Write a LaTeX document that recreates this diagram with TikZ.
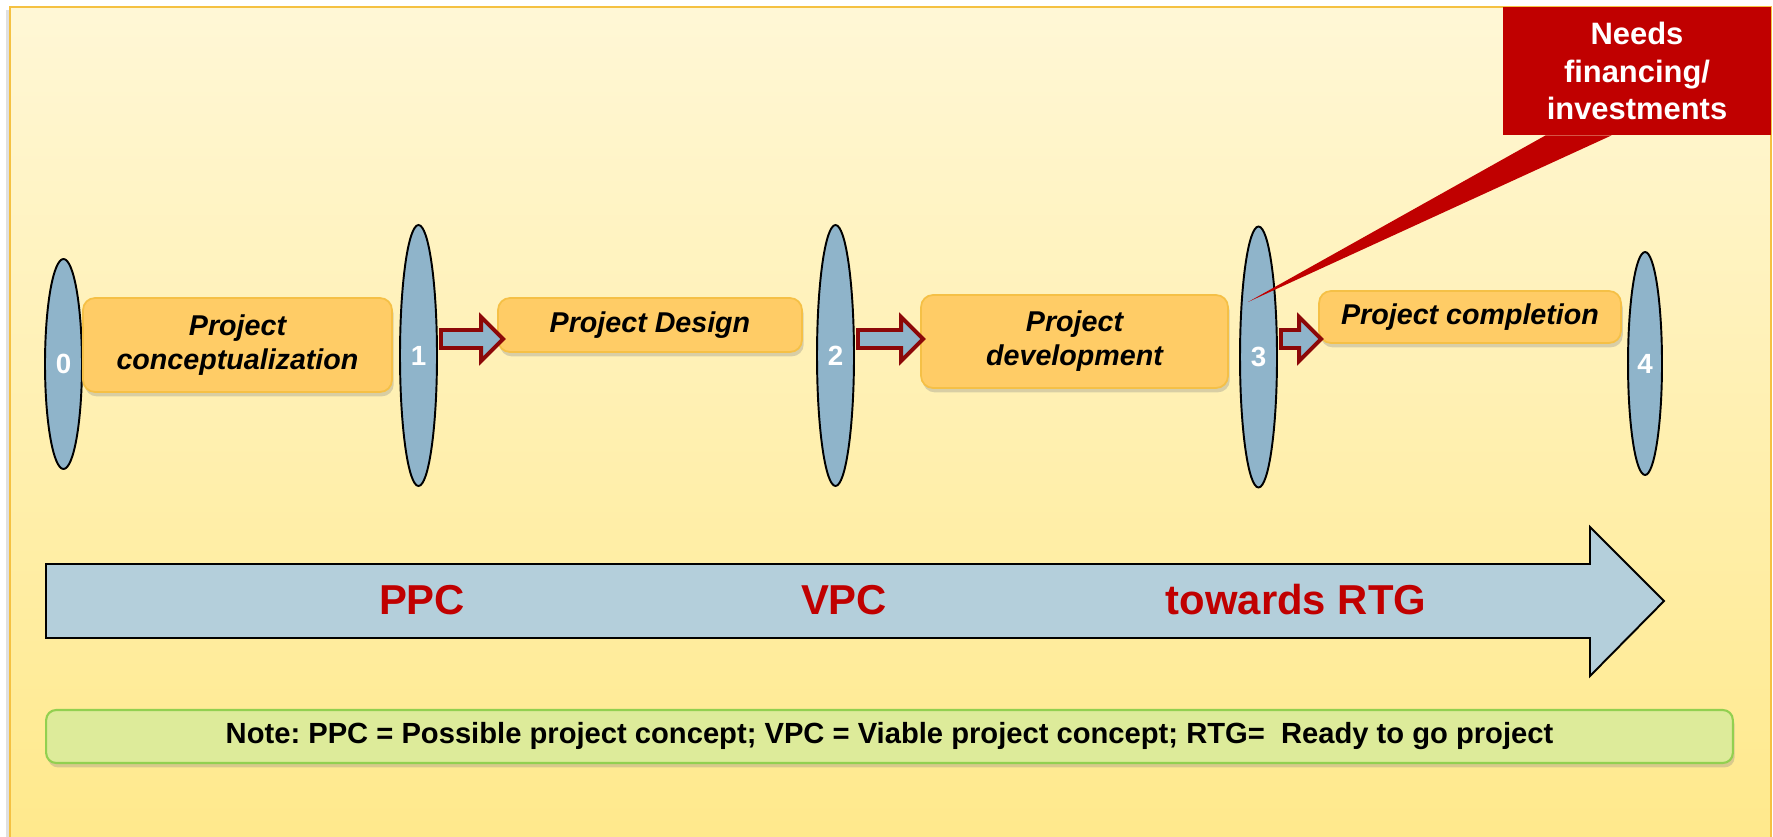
\documentclass[tikz,border=0pt]{standalone}
\usepackage{fontspec}
\setmainfont{Liberation Sans}
\usetikzlibrary{shapes.geometric,shadows,calc}

\definecolor{bgtop}{RGB}{255,247,214}
\definecolor{bgbottom}{RGB}{255,233,140}
\definecolor{framecol}{RGB}{245,193,66}
\definecolor{stageblue}{RGB}{143,180,202}
\definecolor{phasefill}{RGB}{255,204,102}
\definecolor{phaseline}{RGB}{245,192,70}
\definecolor{arrowred}{RGB}{140,8,8}
\definecolor{bandblue}{RGB}{180,207,219}
\definecolor{calloutred}{RGB}{192,0,0}
\definecolor{notefill}{RGB}{221,235,154}
\definecolor{noteline}{RGB}{146,208,80}

\newcommand{\flowarrow}[2]{%
  \draw[flowarrow] let \p1=(#1), \p2=(#2) in
    (\x1+0.06cm,\y2+0.18cm) -- (\x2-0.44cm,\y2+0.18cm) -- (\x2-0.44cm,\y2+0.44cm)
    -- (\x2,\y2) -- (\x2-0.44cm,\y2-0.44cm) -- (\x2-0.44cm,\y2-0.18cm)
    -- (\x1+0.06cm,\y2-0.18cm) -- cycle;}

\frenchspacing
\begin{document}
\begin{tikzpicture}[x=0.02cm,y=-0.02cm,
  stage/.style={ellipse, draw=black, line width=1.1pt, fill=stageblue, inner sep=0pt,
    text=white, font=\fontsize{15.8}{18}\selectfont\bfseries},
  phase/.style={rectangle, rounded corners=0.24cm, draw=phaseline, line width=1pt,
    fill=phasefill, align=center, inner sep=0pt,
    font=\fontsize{16.3}{19.3}\selectfont\bfseries\itshape,
    drop shadow={shadow xshift=1pt, shadow yshift=-2.5pt, opacity=0.3}},
  flowarrow/.style={draw=arrowred, line width=2.2pt, fill=stageblue, miter limit=10},
  callout/.style={rectangle, fill=calloutred, text=white, align=center, inner sep=0pt,
    font=\fontsize{17.6}{21.5}\selectfont\bfseries},
  bandlabel/.style={text=calloutred, font=\fontsize{23.8}{28}\selectfont\bfseries},
  notebox/.style={rectangle, rounded corners=0.2cm, draw=noteline, line width=1.2pt,
    fill=notefill, inner sep=0pt, font=\fontsize{16.6}{19}\selectfont\bfseries,
    drop shadow={shadow xshift=1pt, shadow yshift=-2.5pt, opacity=0.3}}]

\useasboundingbox (0,0) rectangle (1773,837);
\fill[black!12] (6,10) rectangle (10,837);
\shade[top color=bgtop, bottom color=bgbottom] (10,7) rectangle (1771,837);
\draw[framecol, line width=1.2pt] (10,837) -- (10,7) -- (1771,7) -- (1771,837);

\node[stage, minimum width=0.74cm, minimum height=4.2cm] (e0) at (63.5,364) {0};
\node[stage, minimum width=0.74cm, minimum height=5.22cm] (e1) at (418.5,355.5) {1};
\node[stage, minimum width=0.74cm, minimum height=5.22cm] (e2) at (835.5,355.5) {2};
\node[stage, minimum width=0.74cm, minimum height=5.22cm] (e3) at (1258.5,357) {3};
\node[stage, minimum width=0.68cm, minimum height=4.46cm] (e4) at (1645,363.5) {4};

\node[phase, minimum width=6.18cm, minimum height=1.88cm] (concept) at (237.5,345) {Project\\conceptualization};
\node[phase, minimum width=6.08cm, minimum height=1.08cm] (design) at (650,325) {Project Design};
\node[phase, minimum width=6.14cm, minimum height=1.86cm] (develop) at (1074.5,341.5) {Project\\development};
\node[phase, minimum width=6.04cm, minimum height=1.04cm] (complete) at (1470,317) {Project completion};

\coordinate (flowline) at (0,339);
\flowarrow{e1.east}{$(design.west |- flowline)+(0.12cm,0)$}
\flowarrow{e2.east}{$(develop.west |- flowline)+(0.06cm,0)$}
\flowarrow{e3.east}{$(complete.west |- flowline)+(0.06cm,0)$}

\node[callout, minimum width=5.36cm, minimum height=2.56cm] (needs) at (1637,71) {Needs\\financing/\\investments};
\coordinate (tip) at (1248,302);
\fill[calloutred] ([xshift=0.86cm]needs.south west) -- (tip) -- ([xshift=2.18cm]needs.south west) -- cycle;

\draw[fill=bandblue, line width=1.1pt] (46,564) -- (1590,564) -- (1590,527) -- (1664,601)
  -- (1590,676) -- (1590,638) -- (46,638) -- cycle;
\node[bandlabel] (ppc) at (422,600) {PPC};
\node[bandlabel] (vpc) at (844,600) {VPC};
\node[bandlabel] (rtg) at (1296,600) {towards RTG};

\node[notebox, minimum width=33.74cm, minimum height=1.06cm] (note) at (889.5,736.5)
  {Note: PPC = Possible project concept; VPC = Viable project concept; RTG=~ Ready to go project};
\end{tikzpicture}
\end{document}
